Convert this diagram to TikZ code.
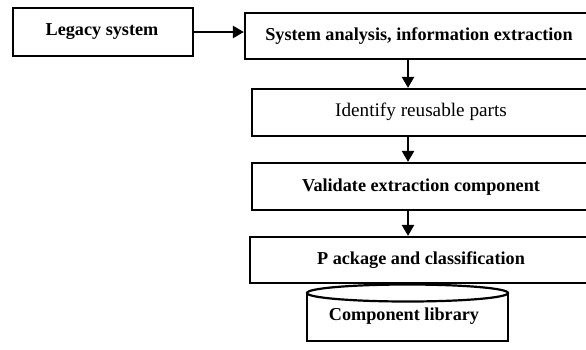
\documentclass[tikz,border=0pt]{standalone}
\usepackage{fontspec}
\setmainfont{Liberation Serif}
\usetikzlibrary{arrows.meta}

\begin{document}
\begin{tikzpicture}[x=1pt, y=-1pt,
    box/.style={draw, line width=2.2pt, inner sep=0pt},
    lbl/.style={font=\fontsize{18.2}{21}\selectfont\bfseries, inner sep=0pt},
    lbllight/.style={font=\fontsize{19.2}{22}\selectfont, inner sep=0pt},
    arr/.style={line width=2.2pt, -{Triangle[length=11pt, width=12pt]}}]
    \useasboundingbox (0,0) rectangle (586,349);

    % Draw the boxes
    \node[box, minimum width=180, minimum height=48] (legacy) at (103,32) {};
    \node[box, minimum width=360, minimum height=46] (sysbox) at (425,36) {};
    \node[box, minimum width=350, minimum height=47] (identbox) at (427,112.5) {};
    \node[box, minimum width=350, minimum height=47] (validbox) at (427,186.5) {};
    \node[box, minimum width=350, minimum height=46] (packbox) at (425,260) {};

    % Draw the library drum
    \draw[line width=2.2pt] (307,293) -- (307,341) -- (508,341) -- (508,293);
    \draw[line width=2.2pt, fill=white] (407.5,293) ellipse [x radius=100.5, y radius=8.5];

    % Add labels
    \node[lbl] (legacytxt) at (102,32) {Legacy system};
    \node[lbl] (systxt) at (419,36) {System analysis, information extraction};
    \node[lbllight] (identtxt) at (421,112) {Identify reusable parts};
    \node[lbl] (validtxt) at (421,187) {Validate extraction component};
    \node[lbl] (packtxt) at (421,260) {P ackage and classification};
    \node[lbl] (libtxt) at (404,316) {Component library};

    % Draw the arrows
    \coordinate (axis) at (408,0);
    \draw[arr] (legacy.east) -- (legacy.east -| sysbox.west);
    \draw[arr] (sysbox.south -| axis) -- (identbox.north -| axis);
    \draw[arr] (identbox.south -| axis) -- (validbox.north -| axis);
    \draw[arr] (validbox.south -| axis) -- (packbox.north -| axis);
\end{tikzpicture}
\end{document}
